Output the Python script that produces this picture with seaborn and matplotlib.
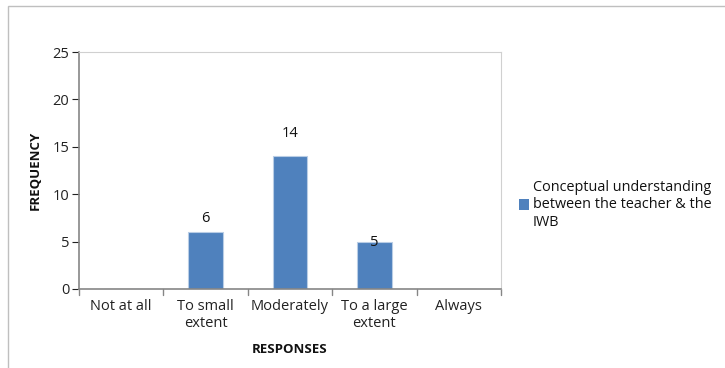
import matplotlib
matplotlib.use("Agg")
import matplotlib.pyplot as plt
import seaborn as sns
import pandas as pd
from matplotlib.patches import Rectangle

responses = ["Not at all", "To small\nextent", "Moderately", "To a large\nextent", "Always"]
frequency = [0, 6, 14, 5, 0]
series_name = "Conceptual understanding\nbetween the teacher & the\nIWB"
value_labels = ["6", "14", "5"]
labelled_idx = [1, 2, 3]

sns.set_theme(style="white")
plt.rcParams["font.family"] = ["Open Sans", "DejaVu Sans"]

df = pd.DataFrame({"Response": responses, "Frequency": frequency})

fig = plt.figure(figsize=(7.25, 3.68), dpi=100)
ax = fig.add_axes([79 / 725, 1 - 289 / 368, (501 - 79) / 725, (289 - 52) / 368])

bar_color = "#4F81BD"
sns.barplot(data=df, x="Response", y="Frequency", color=bar_color, width=0.41,
            edgecolor="#B9CDE5", linewidth=0.8, ax=ax, saturation=1)

ax.set_xlim(-0.5, 4.5)
ax.set_ylim(0, 25)
ax.set_yticks([0, 5, 10, 15, 20, 25])
ax.set_xticks(range(5))
ax.set_xticklabels(responses, fontsize=10.5, color="#222222", linespacing=1.2)
ax.tick_params(axis="y", labelsize=10.5, colors="#222222", length=5, width=0.8,
               direction="out", left=True, pad=2)
ax.tick_params(axis="x", length=0, pad=7)
for tl in ax.get_yticklabels():
    tl.set_color("#222222")

# category boundary ticks below the baseline
for b in [-0.5, 0.5, 1.5, 2.5, 3.5, 4.5]:
    ax.plot([b, b], [0, -0.025], transform=ax.get_xaxis_transform(),
            color="#868686", lw=1.0, clip_on=False)

for side in ["left", "bottom"]:
    ax.spines[side].set_color("#868686")
    ax.spines[side].set_linewidth(1.2)
for side in ["top", "right"]:
    ax.spines[side].set_color("#D0D0D0")
    ax.spines[side].set_linewidth(0.8)

ax.set_xlabel("RESPONSES", fontsize=9.5, fontweight="bold", labelpad=9, color="#111111")
ax.set_ylabel("FREQUENCY", fontsize=9.5, fontweight="bold", labelpad=8, color="#111111")

# value labels
label_offsets = [10, 16.5, -1]
for idx, txt, off in zip(labelled_idx, value_labels, label_offsets):
    ax.annotate(txt, (idx, frequency[idx]), xytext=(0, off), textcoords="offset points",
                ha="center", va="center", fontsize=10.5, color="#111111")

# legend
fig.patches.append(Rectangle((519 / 725, 1 - 210 / 368), 10 / 725, 11 / 368,
                             transform=fig.transFigure, facecolor=bar_color,
                             edgecolor="none"))
fig.text(533 / 725, 1 - 205 / 368, series_name, fontsize=10.4, va="center",
         ha="left", color="#111111", linespacing=1.25)

# outer chart frame
fig.patches.append(Rectangle((8 / 725, -0.01), 1.0, 1 - 6 / 368 + 0.01,
                             transform=fig.transFigure, fill=False,
                             edgecolor="#BFBFBF", linewidth=1.0))

fig.savefig("out.png", dpi=100)
